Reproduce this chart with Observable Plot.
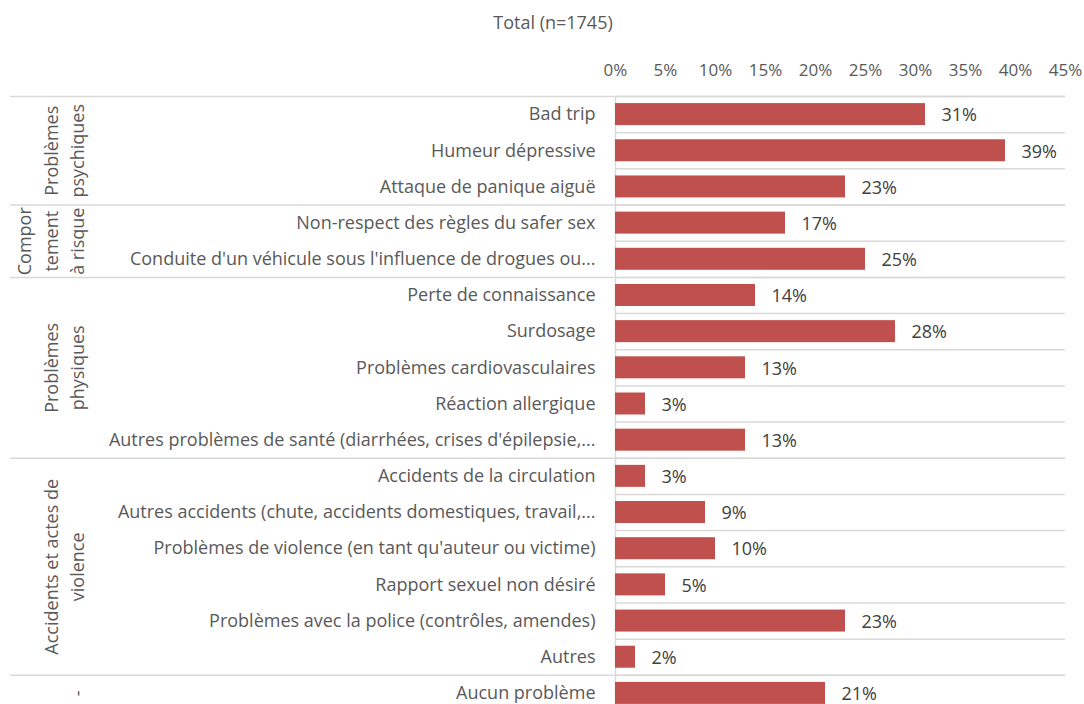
<!DOCTYPE html>
<html>
<head>
<meta charset="utf-8">
<script src="https://cdn.jsdelivr.net/npm/d3@7"></script>
<script src="https://cdn.jsdelivr.net/npm/@observablehq/plot@0.6"></script>
<style>
  html, body { margin: 0; padding: 0; background: #fff; }
  #title { width: 1084px; height: 44px; line-height: 44px; box-sizing: border-box; padding-left: 22px;
           text-align: center; font-family: "Open Sans", sans-serif; font-size: 18px; color: #595959; }
</style>
</head>
<body>
<div id="title">Total (n=1745)</div>
<div id="chart"></div>
<script>
const categories = [
  "Bad trip",
  "Humeur dépressive",
  "Attaque de panique aiguë",
  "Non-respect des règles du safer sex",
  "Conduite d'un véhicule sous l'influence de drogues ou...",
  "Perte de connaissance",
  "Surdosage",
  "Problèmes cardiovasculaires",
  "Réaction allergique",
  "Autres problèmes de santé (diarrhées, crises d'épilepsie,...",
  "Accidents de la circulation",
  "Autres accidents (chute, accidents domestiques, travail,...",
  "Problèmes de violence (en tant qu'auteur ou victime)",
  "Rapport sexuel non désiré",
  "Problèmes avec la police (contrôles, amendes)",
  "Autres",
  "Aucun problème"
];
const values = [31, 39, 23, 17, 25, 14, 28, 13, 3, 13, 3, 9, 10, 5, 23, 2, 21];
const groupNames = ["Problèmes\npsychiques", "Compor\ntement\nà risque", "Problèmes\nphysiques", "Accidents et actes de\nviolence", "-"];
const groupSizes = [3, 2, 5, 6, 1];
const xTicks = [0, 5, 10, 15, 20, 25, 30, 35, 40, 45];

const data = categories.map((c, i) => ({i, label: c, value: values[i]}));
let start = 0;
const groups = groupNames.map((name, k) => {
  const g = {name, start, end: start + groupSizes[k] - 1, mid: start + (groupSizes[k] - 1) / 2};
  start += groupSizes[k];
  return g;
});
const rowBounds = d3.range(categories.length + 1).map(i => i - 0.5);
const groupBounds = [-0.5, ...groups.map(g => g.end + 0.5)];

const gray = "#595959";
const chart = Plot.plot({
  width: 1084,
  height: 667,
  marginTop: 52,
  marginBottom: 0,
  marginLeft: 10,
  marginRight: 19,
  style: {fontFamily: "Open Sans, sans-serif", fontSize: "18px", background: "#fff"},
  x: {domain: [0, 45], range: [615, 1065]},
  y: {domain: [-0.5, categories.length - 0.5], reverse: true, axis: null},
  marks: [
    Plot.ruleY(rowBounds, {x1: 0, x2: 45, stroke: "#d9d9d9", strokeWidth: 1.5}),
    Plot.ruleY(groupBounds, {stroke: "#d9d9d9", strokeWidth: 1.5}),
    Plot.ruleX([0], {stroke: "#d9d9d9", strokeWidth: 1.5}),
    Plot.rectX(data, {x1: 0, x2: "value", y1: d => d.i - 0.304, y2: d => d.i + 0.304, fill: "#c0504d"}),
    Plot.axisX({anchor: "top", ticks: xTicks, tickFormat: d => d + "%", tickSize: 0, tickPadding: 21,
                fontSize: 17, fill: gray, label: null}),
    Plot.text(data, {x: 0, y: "i", text: "label", textAnchor: "end", dx: -20, fill: gray, fontSize: 18}),
    Plot.text(data, {x: "value", y: "i", text: d => d.value + "%", textAnchor: "start", dx: 16, dy: 1, fill: "#404040", fontSize: 18}),
    Plot.text(groups, {y: "mid", frameAnchor: "left", dx: 73.5, rotate: -90, textAnchor: "middle", lineAnchor: "bottom",
                       lineHeight: 1.47, text: "name", fill: gray, fontSize: 18})
  ]
});
document.getElementById("chart").appendChild(chart);
</script>
</body>
</html>
